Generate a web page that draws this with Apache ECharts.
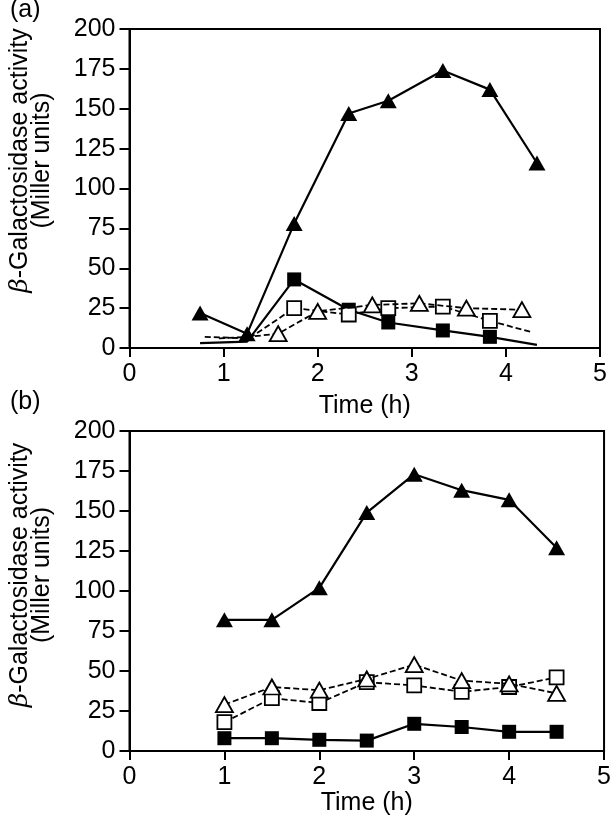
<!DOCTYPE html>
<html>
<head>
<meta charset="utf-8">
<script src="https://cdn.jsdelivr.net/npm/echarts@6/dist/echarts.min.js"></script>
<style>
html,body{margin:0;padding:0;background:#fff;}
#c{width:614px;height:823px;}
</style>
</head>
<body>
<div id="c"></div>
<script>
// Panel (a) data [time (h), activity (Miller units)]
var aFilledTri = [[0.75,22],[1.25,9],[1.75,78],[2.33,147],[2.75,155],[3.33,174],[3.83,162],[4.33,116]];
var aFilledSq  = [[0.75,3],[1.25,4],[1.75,43],[2.33,24],[2.75,16],[3.33,11],[3.83,7],[4.33,2]];
var aOpenSq    = [[0.8,7],[1.27,6],[1.75,25],[2.33,21],[2.75,25],[3.33,26],[3.83,17],[4.27,10]];
var aOpenTri   = [[0.95,6],[1.27,7],[1.58,9],[2.0,23],[2.58,27],[3.08,28],[3.58,25],[4.17,24]];
// indices of points drawn without a marker in panel (a)
var aNoMarkSq  = [0,1,7];
var aNoMarkOSq = [0,1,7];
var aNoMarkOTri= [0,1];

// Panel (b) data
var bTime      = [1,1.5,2,2.5,3,3.5,4,4.5];
var bFilledTri = [82,82,102,149,173,163,157,127];
var bOpenTri   = [29,40,38,45,54,44,42,36];
var bOpenSq    = [18,33,30,43,41,37,40,46];
var bFilledSq  = [8,8,7,6.5,17,15,12,12];

var xTicks = [0,1,2,3,4,5];
var yTicks = [0,25,50,75,100,125,150,175,200];

function pts(arr, none){
  return arr.map(function(p,i){
    if (none && none.indexOf(i) >= 0) return {value:p, symbol:'none'};
    return {value:p};
  });
}
function zipB(vals){ return bTime.map(function(t,i){ return [t, vals[i]]; }); }

var FONT = 'Liberation Sans, Arial, Helvetica, sans-serif';
var FS = 25;

function xAxisCfg(gi, gap){
  return {
    type:'value', gridIndex:gi, min:xTicks[0], max:xTicks[xTicks.length-1], interval:1,
    name:'Time (h)', nameLocation:'middle', nameGap:gap,
    nameTextStyle:{color:'#000', fontFamily:FONT, fontSize:FS},
    axisLine:{show:true, lineStyle:{color:'#000', width:2}},
    axisTick:{show:true, inside:false, length:9, lineStyle:{color:'#000', width:2}},
    axisLabel:{color:'#000', fontFamily:FONT, fontSize:FS, margin:14},
    splitLine:{show:false}
  };
}
function yAxisCfg(gi, shift){
  return {
    type:'value', gridIndex:gi, min:yTicks[0], max:yTicks[yTicks.length-1], interval:25,
    name:'{b|β}-Galactosidase activity\n(Miller units)', nameLocation:'middle', nameGap:76, nameRotate:90,
    nameTextStyle:{color:'#000', fontFamily:FONT, fontSize:FS, lineHeight:22, align:'center',
      padding:[0,0,0,shift*2],
      rich:{b:{fontFamily:'DejaVu Serif, serif', fontStyle:'italic', fontSize:FS, color:'#000'}}},
    axisLine:{show:true, lineStyle:{color:'#000', width:2}},
    axisTick:{show:true, inside:false, length:10, lineStyle:{color:'#000', width:2}},
    axisLabel:{color:'#000', fontFamily:FONT, fontSize:FS, margin:14},
    splitLine:{show:false}
  };
}
function filledTri(xi, data){
  return {type:'line', xAxisIndex:xi, yAxisIndex:xi, data:data, symbol:'triangle', symbolSize:[17,15],
    lineStyle:{color:'#000', width:2.2}, itemStyle:{color:'#000'}, animation:false, z:2};
}
function filledSq(xi, data){
  return {type:'line', xAxisIndex:xi, yAxisIndex:xi, data:data, symbol:'rect', symbolSize:14,
    lineStyle:{color:'#000', width:2.2}, itemStyle:{color:'#000'}, animation:false, z:3};
}
function openSq(xi, data){
  return {type:'line', xAxisIndex:xi, yAxisIndex:xi, data:data, symbol:'rect', symbolSize:14, showAllSymbol:true,
    lineStyle:{color:'#000', width:1.8, type:[6,3]}, itemStyle:{color:'#fff', borderColor:'#000', borderWidth:1.8}, animation:false, z:4};
}
function openTri(xi, data){
  return {type:'line', xAxisIndex:xi, yAxisIndex:xi, data:data, symbol:'triangle', symbolSize:[17,15], showAllSymbol:true,
    lineStyle:{color:'#000', width:1.8, type:[6,3]}, itemStyle:{color:'#fff', borderColor:'#000', borderWidth:1.8}, animation:false, z:5};
}

var chart = echarts.init(document.getElementById('c'), null, {renderer:'canvas'});
chart.setOption({
  backgroundColor:'#fff',
  animation:false,
  grid:[
    {left:121, top:29, width:479, height:319, show:true, borderColor:'#000', borderWidth:2, backgroundColor:'transparent'},
    {left:126, top:431, width:481, height:320, show:true, borderColor:'#000', borderWidth:2, backgroundColor:'transparent'}
  ],
  xAxis:[xAxisCfg(0, 46), xAxisCfg(1, 40)],
  yAxis:[yAxisCfg(0, 28), yAxisCfg(1, 16)],
  graphic:[
    {type:'text', left:10, top:-2, style:{text:'(a)', fill:'#000', font:'25px '+FONT}},
    {type:'text', left:10, top:390, style:{text:'(b)', fill:'#000', font:'25px '+FONT}}
  ],
  series:[
    filledTri(0, pts(aFilledTri)),
    filledSq(0, pts(aFilledSq, aNoMarkSq)),
    openSq(0, pts(aOpenSq, aNoMarkOSq)),
    openTri(0, pts(aOpenTri, aNoMarkOTri)),
    filledTri(1, zipB(bFilledTri)),
    filledSq(1, zipB(bFilledSq)),
    openSq(1, zipB(bOpenSq)),
    openTri(1, zipB(bOpenTri))
  ]
});
</script>
</body>
</html>
